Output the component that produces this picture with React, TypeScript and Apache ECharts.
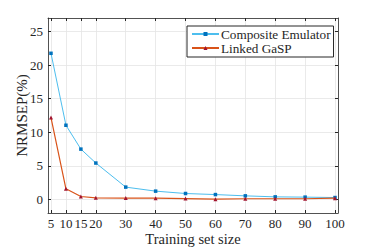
import React, { useEffect, useRef } from "react";
import * as echarts from "echarts";

const xTicks = [5, 10, 15, 20, 30, 40, 50, 60, 70, 80, 90, 100];
const yTicks = [0, 5, 10, 15, 20, 25];
const composite = [21.75, 11.05, 7.5, 5.43, 1.85, 1.25, 0.9, 0.74, 0.55, 0.4, 0.36, 0.3];
const linked = [12.2, 1.6, 0.45, 0.26, 0.22, 0.2, 0.15, 0.05, 0.12, 0.12, 0.12, 0.2];

const FONT = "'Liberation Serif', 'DejaVu Serif', serif";

export default function App() {
  const ref = useRef<HTMLDivElement>(null);
  useEffect(() => {
    if (!ref.current) return;
    const chart = echarts.init(ref.current, undefined, { renderer: "svg" });
    const axisColor = "#262626";
    const gridColor = "#e5e5e5";
    chart.setOption({
      animation: false,
      backgroundColor: "#ffffff",
      textStyle: { fontFamily: FONT },
      grid: { left: 48, right: 36, top: 18, bottom: 36, containLabel: false, outerBoundsMode: "none" },
      legend: {
        orient: "vertical",
        left: 187,
        top: 26,
        padding: [1, 3, 2, 4],
        itemGap: 0,
        itemWidth: 27,
        itemHeight: 5,
        borderColor: axisColor,
        borderWidth: 1,
        borderRadius: 0,
        backgroundColor: "#ffffff",
        textStyle: { fontFamily: FONT, fontSize: 13.2, lineHeight: 14, color: "#262626", padding: [0, 0, 0, -3] },
        data: ["Composite Emulator", "Linked GaSP"],
      },
      xAxis: [
        {
          type: "value",
          min: 4,
          max: 101,
          name: "Training set size",
          nameLocation: "middle",
          nameGap: 18,
          nameMoveOverlap: false,
          nameTextStyle: { fontFamily: FONT, fontSize: 14.5, color: "#262626" },
          axisLine: { show: true, onZero: false, lineStyle: { color: axisColor, width: 0.8 } },
          axisTick: { show: true, inside: true, length: 3, customValues: xTicks, lineStyle: { color: axisColor } },
          axisLabel: { customValues: xTicks, fontFamily: FONT, fontSize: 13, color: "#262626", margin: 4 },
          splitLine: { show: true, lineStyle: { color: gridColor, width: 0.8 } },
        },
        {
          type: "value",
          position: "top",
          min: 4,
          max: 101,
          axisLine: { show: true, onZero: false, lineStyle: { color: axisColor, width: 0.8 } },
          axisTick: { show: true, inside: true, length: 3, customValues: xTicks, lineStyle: { color: axisColor } },
          axisLabel: { show: false },
          splitLine: { show: false },
        },
      ],
      yAxis: [
        {
          type: "value",
          min: -2,
          max: 27,
          name: "NRMSEP(%)",
          nameLocation: "middle",
          nameGap: 19,
          nameMoveOverlap: false,
          nameTextStyle: { fontFamily: FONT, fontSize: 15, color: "#262626" },
          axisLine: { show: true, onZero: false, lineStyle: { color: axisColor, width: 0.8 } },
          axisTick: { show: true, inside: true, length: 3, customValues: yTicks, lineStyle: { color: axisColor } },
          axisLabel: { customValues: yTicks, fontFamily: FONT, fontSize: 13, color: "#262626", margin: 5 },
          splitLine: { show: true, lineStyle: { color: gridColor, width: 0.8 } },
        },
        {
          type: "value",
          position: "right",
          min: -2,
          max: 27,
          axisLine: { show: true, onZero: false, lineStyle: { color: axisColor, width: 0.8 } },
          axisTick: { show: true, inside: true, length: 3, customValues: yTicks, lineStyle: { color: axisColor } },
          axisLabel: { show: false },
          splitLine: { show: false },
        },
      ],
      series: [
        {
          name: "Composite Emulator",
          type: "line",
          data: xTicks.map((x, i) => [x, composite[i]]),
          symbol: "rect",
          symbolSize: 3.5,
          lineStyle: { color: "#4DBEEE", width: 1 },
          itemStyle: { color: "#0072BD" },
          z: 3,
        },
        {
          name: "Linked GaSP",
          type: "line",
          data: xTicks.map((x, i) => [x, linked[i]]),
          symbol: "triangle",
          symbolSize: 4,
          lineStyle: { color: "#D95319", width: 1.2 },
          itemStyle: { color: "#A2142F" },
          z: 4,
        },
      ],
    });
    return () => chart.dispose();
  }, []);
  return <div ref={ref} style={{ width: 374, height: 249, position: "absolute", left: 0, top: 0 }} />;
}
